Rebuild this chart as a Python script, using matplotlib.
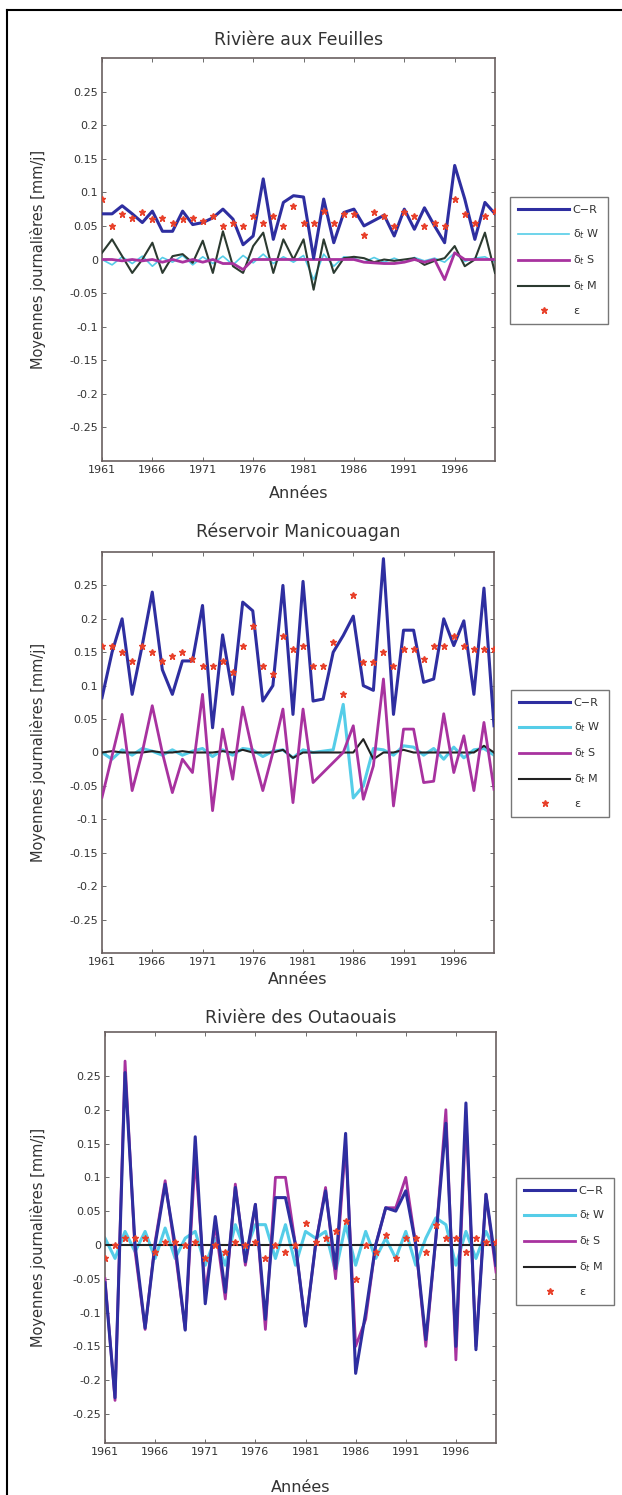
import matplotlib
matplotlib.use("Agg")
import matplotlib.pyplot as plt
from matplotlib.lines import Line2D

plt.rcParams['font.family'] = ['DejaVu Sans']

years = list(range(1961, 2001))
xtick_years = [1961, 1966, 1971, 1976, 1981, 1986, 1991, 1996]
ytick_vals = [0.25, 0.2, 0.15, 0.1, 0.05, 0, -0.05, -0.1, -0.15, -0.2, -0.25]
ytick_labels = ["0.25", "0.2", "0.15", "0.1", "0.05", "0", "-0.05", "-0.1", "-0.15", "-0.2", "-0.25"]

titles = ["Rivière aux Feuilles", "Réservoir Manicouagan", "Rivière des Outaouais"]
series_labels = ["C−R", "δ$_t$ W", "δ$_t$ S", "δ$_t$ M", "ε"]

# ---- Rivière aux Feuilles ----
feuilles_cr = [0.068, 0.068, 0.080, 0.068, 0.055, 0.072, 0.042, 0.042, 0.072, 0.052,
               0.055, 0.062, 0.075, 0.060, 0.022, 0.035, 0.120, 0.030, 0.085, 0.095,
               0.093, 0.002, 0.090, 0.025, 0.070, 0.075, 0.050, 0.058, 0.066, 0.035,
               0.075, 0.045, 0.077, 0.050, 0.025, 0.140, 0.090, 0.030, 0.085, 0.068]
feuilles_w = [0.000, -0.008, 0.004, -0.006, 0.005, -0.010, 0.003, -0.004, 0.006, -0.008,
              0.004, -0.006, 0.005, -0.008, 0.006, -0.005, 0.008, -0.006, 0.004, -0.004,
              0.006, -0.030, 0.008, -0.010, 0.004, 0.002, -0.004, 0.003, -0.004, 0.002,
              -0.004, 0.003, -0.002, 0.002, -0.004, 0.010, -0.003, 0.002, 0.004, -0.004]
feuilles_s = [0.000, 0.000, -0.002, 0.000, -0.002, 0.000, -0.004, 0.000, -0.004, 0.000,
              -0.004, 0.000, -0.006, -0.006, -0.015, 0.000, 0.000, 0.000, 0.000, 0.000,
              0.000, 0.000, 0.000, 0.000, 0.000, 0.000, -0.004, -0.005, -0.006, -0.006,
              -0.004, 0.000, -0.004, 0.000, -0.030, 0.010, 0.000, 0.000, 0.000, 0.000]
feuilles_m = [0.010, 0.030, 0.005, -0.020, 0.000, 0.025, -0.020, 0.005, 0.008, -0.005,
              0.028, -0.020, 0.042, -0.010, -0.020, 0.020, 0.040, -0.020, 0.030, 0.000,
              0.030, -0.045, 0.030, -0.020, 0.002, 0.004, 0.002, -0.004, 0.000, -0.002,
              0.000, 0.002, -0.008, -0.002, 0.002, 0.020, -0.010, 0.000, 0.040, -0.020]
feuilles_e = [0.090, 0.050, 0.068, 0.062, 0.070, 0.060, 0.062, 0.055, 0.060, 0.062,
              0.058, 0.065, 0.050, 0.055, 0.050, 0.065, 0.055, 0.065, 0.050, 0.080,
              0.055, 0.055, 0.072, 0.055, 0.068, 0.068, 0.037, 0.070, 0.065, 0.050,
              0.070, 0.065, 0.050, 0.055, 0.050, 0.090, 0.068, 0.055, 0.065, 0.072]

# ---- Réservoir Manicouagan ----
mani_cr = [0.082, 0.150, 0.200, 0.087, 0.160, 0.240, 0.124, 0.087, 0.137, 0.137,
           0.220, 0.037, 0.176, 0.087, 0.225, 0.212, 0.077, 0.100, 0.250, 0.057,
           0.256, 0.077, 0.080, 0.150, 0.175, 0.204, 0.100, 0.093, 0.290, 0.057,
           0.183, 0.183, 0.105, 0.110, 0.200, 0.160, 0.197, 0.087, 0.246, 0.040]
mani_w = [0.000, -0.010, 0.004, -0.004, 0.006, 0.002, -0.004, 0.004, -0.004, 0.002,
          0.006, -0.006, 0.004, -0.004, 0.006, 0.004, -0.006, 0.002, 0.004, -0.008,
          0.004, 0.000, 0.002, 0.004, 0.072, -0.068, -0.050, 0.006, 0.004, -0.004,
          0.010, 0.008, -0.004, 0.006, -0.010, 0.008, -0.008, 0.004, 0.006, -0.004]
mani_s = [-0.067, -0.005, 0.057, -0.057, 0.000, 0.070, 0.000, -0.060, -0.010, -0.030,
          0.087, -0.087, 0.035, -0.040, 0.068, 0.000, -0.057, 0.000, 0.065, -0.075,
          0.065, -0.045, -0.030, -0.015, 0.000, 0.040, -0.070, -0.020, 0.110, -0.080,
          0.035, 0.035, -0.045, -0.043, 0.058, -0.030, 0.025, -0.057, 0.045, -0.055]
mani_m = [0.000, 0.002, 0.000, 0.000, 0.000, 0.002, 0.000, 0.000, 0.002, 0.000,
          0.000, 0.000, 0.002, 0.000, 0.004, 0.000, 0.000, 0.000, 0.004, -0.008,
          0.000, 0.000, 0.000, 0.000, 0.000, 0.000, 0.020, -0.010, 0.000, 0.000,
          0.004, 0.000, 0.000, 0.000, 0.000, 0.000, 0.000, 0.000, 0.010, 0.000]
mani_e = [0.160, 0.160, 0.150, 0.137, 0.160, 0.150, 0.137, 0.145, 0.150, 0.140,
          0.130, 0.130, 0.137, 0.120, 0.160, 0.190, 0.130, 0.117, 0.175, 0.155,
          0.160, 0.130, 0.130, 0.165, 0.087, 0.236, 0.135, 0.135, 0.150, 0.130,
          0.155, 0.155, 0.140, 0.160, 0.160, 0.175, 0.160, 0.155, 0.155, 0.155]

# ---- Rivière des Outaouais ----
outa_cr = [-0.056, -0.226, 0.255, 0.000, -0.123, 0.000, 0.090, 0.000, -0.126, 0.160,
           -0.087, 0.042, -0.070, 0.085, -0.025, 0.060, -0.110, 0.070, 0.070, 0.000,
           -0.120, 0.000, 0.080, -0.035, 0.165, -0.190, -0.100, 0.000, 0.055, 0.050,
           0.080, 0.000, -0.140, 0.010, 0.180, -0.150, 0.210, -0.155, 0.075, -0.030]
outa_w = [0.010, -0.020, 0.020, -0.010, 0.020, -0.020, 0.025, -0.020, 0.010, 0.020,
          -0.030, 0.010, -0.030, 0.030, -0.010, 0.030, 0.030, -0.020, 0.030, -0.030,
          0.020, 0.010, 0.020, -0.040, 0.030, -0.030, 0.020, -0.020, 0.010, -0.020,
          0.020, -0.030, 0.010, 0.040, 0.030, -0.030, 0.020, -0.020, 0.020, -0.010]
outa_s = [-0.050, -0.230, 0.272, -0.010, -0.125, 0.005, 0.095, -0.010, -0.125, 0.130,
          -0.070, 0.030, -0.080, 0.090, -0.030, 0.060, -0.125, 0.100, 0.100, 0.000,
          -0.120, 0.000, 0.085, -0.050, 0.150, -0.150, -0.110, 0.000, 0.055, 0.055,
          0.100, 0.000, -0.150, 0.010, 0.200, -0.170, 0.190, -0.150, 0.075, -0.040]
outa_m = [0.000] * 40
outa_e = [-0.020, 0.000, 0.010, 0.010, 0.010, -0.010, 0.005, 0.005, 0.000, 0.005,
          -0.020, 0.000, -0.010, 0.005, 0.000, 0.005, -0.020, 0.000, -0.010, 0.000,
          0.033, 0.005, 0.010, 0.020, 0.035, -0.050, 0.000, -0.010, 0.015, -0.020,
          0.010, 0.010, -0.010, 0.030, 0.010, 0.010, -0.010, 0.010, 0.005, 0.005]

panels = [
    (titles[0], feuilles_cr, feuilles_w, feuilles_s, feuilles_m, feuilles_e),
    (titles[1], mani_cr, mani_w, mani_s, mani_m, mani_e),
    (titles[2], outa_cr, outa_w, outa_s, outa_m, outa_e),
]
ylims = [(-0.3, 0.3), (-0.3, 0.3), (-0.293, 0.315)]

W, H = 622, 1495
fig = plt.figure(figsize=(W / 100, H / 100), dpi=100)
fig.patch.set_facecolor('white')

# axes boxes in pixels: left, top, right, bottom
boxes = [(102, 58, 495, 461), (102, 552, 494, 953), (105, 1032, 496, 1443)]
title_y = [40, 532, 1018]
xlabel_y = [494, 979, 1488]
legend_boxes = [(510, 197), (511, 690), (516, 1178)]

col_cr = '#2e2ea0'
col_w = '#55cde8'
col_s = '#a8329f'
col_m = ['#2b3a30', '#222222', '#222222']
col_e = '#e8402a'
lw_w = [1.2, 2.2, 2.2]
txt = '#333333'

for k, (title, cr, w, s, m, e) in enumerate(panels):
    l, t, r, b = boxes[k]
    ax = fig.add_axes([l / W, 1 - b / H, (r - l) / W, (b - t) / H])
    ax.plot(years, w, color=col_w, lw=lw_w[k], label=series_labels[1], zorder=2)
    ax.plot(years, m, color=col_m[k], lw=1.5, label=series_labels[3], zorder=3)
    ax.plot(years, s, color=col_s, lw=2.0, label=series_labels[2], zorder=4)
    ax.plot(years, cr, color=col_cr, lw=2.2, label=series_labels[0], zorder=5)
    ax.plot(years, e, linestyle='none', marker='*', ms=5, color=col_e,
            label=series_labels[4], zorder=6)
    ax.set_xlim(1961, 2000)
    ax.set_ylim(*ylims[k])
    ax.set_xticks(xtick_years)
    ax.set_xticklabels([str(y) for y in xtick_years], fontsize=8, color=txt)
    ax.set_yticks(ytick_vals)
    ax.set_yticklabels(ytick_labels, fontsize=8, color=txt)
    ax.tick_params(direction='in', top=True, right=True, length=3, width=0.6,
                   color='#555555', pad=3)
    for sp in ax.spines.values():
        sp.set_color('#6a6060')
        sp.set_linewidth(1.2)
    cx = (l + r) / 2 / W
    fig.text(cx, 1 - title_y[k] / H, title, ha='center', va='center', fontsize=12.5,
             color=txt)
    fig.text(cx, 1 - xlabel_y[k] / H, "Années", ha='center', va='center', fontsize=11.5,
             color=txt)
    fig.text(38 / W, 1 - (t + b) / 2 / H, "Moyennes journalières [mm/j]", rotation=90,
             ha='center', va='center', fontsize=10.5, color=txt)

    handles, labels = ax.get_legend_handles_labels()
    order = [labels.index(lb) for lb in series_labels]
    lx, ly = legend_boxes[k]
    leg = ax.legend([handles[i] for i in order], [labels[i] for i in order],
                    loc='upper left', bbox_to_anchor=(lx / W, 1 - ly / H),
                    bbox_transform=fig.transFigure, fontsize=8, frameon=True,
                    fancybox=False, edgecolor='#555555', handlelength=4.6,
                    labelspacing=1.1, borderpad=0.75, handletextpad=0.3,
                    borderaxespad=0)
    leg.get_frame().set_linewidth(1.0)
    for txtobj in leg.get_texts():
        txtobj.set_color(txt)

# outer frame (top and left edges)
fig.add_artist(Line2D([7 / W, 1], [1 - 10 / H, 1 - 10 / H], color='black', lw=1.5,
                      transform=fig.transFigure))
fig.add_artist(Line2D([7 / W, 7 / W], [0, 1 - 10 / H], color='black', lw=1.5,
                      transform=fig.transFigure))

fig.savefig('out.png', dpi=100, facecolor='white')
